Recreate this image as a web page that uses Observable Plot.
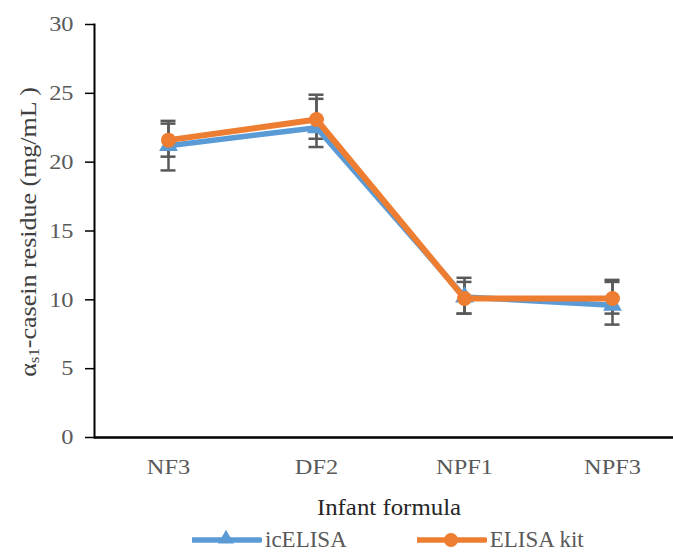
<!DOCTYPE html>
<html>
<head>
<meta charset="utf-8">
<script src="https://cdn.jsdelivr.net/npm/d3@7"></script>
<script src="https://cdn.jsdelivr.net/npm/@observablehq/plot@0.6"></script>
<style>
  body { margin: 0; background: #fff; overflow: hidden; font-family: 'Liberation Serif', 'Times New Roman', 'DejaVu Serif', serif; }
  #chart svg { display: block; }
  #chart svg text { font-family: 'Liberation Serif', 'Times New Roman', 'DejaVu Serif', serif; }
  .legend { box-sizing: border-box; display: flex; align-items: flex-start; height: 31px; padding-top: 4px; padding-left: 192px; color: #595959; font-size: 23px; line-height: 27px; }
  .legend .item { display: flex; align-items: center; height: 27px; }
  .legend .item + .item { margin-left: 70px; }
  .legend svg { display: block; margin-right: 3px; }
</style>
</head>
<body>
<div id="chart"></div>
<script>
// Infant formula samples
const categories = ["NF3", "DF2", "NPF1", "NPF3"];

// icELISA: mean and error bar ends (mg/mL)
const icElisaMean = [21.2, 22.5, 10.2, 9.6];
const icElisaLow  = [19.4, 21.1, 9.0, 8.2];
const icElisaHigh = [22.8, 24.9, 11.6, 11.45];

// Commercial ELISA kit: mean and error bar ends (mg/mL)
const kitMean = [21.6, 23.1, 10.1, 10.1];
const kitLow  = [20.4, 21.7, 9.0, 9.0];
const kitHigh = [23.0, 24.6, 11.3, 11.3];

const yTicks = [0, 5, 10, 15, 20, 25, 30];

const seriesNames = ["icELISA", "ELISA kit"];
const colors = {"icELISA": "#5B9BD5", "ELISA kit": "#ED7D31"};

const rows = [];
categories.forEach((c, i) => {
  rows.push({series: "icELISA", formula: c, value: icElisaMean[i], low: icElisaLow[i], high: icElisaHigh[i]});
});
categories.forEach((c, i) => {
  rows.push({series: "ELISA kit", formula: c, value: kitMean[i], low: kitLow[i], high: kitHigh[i]});
});
const ic = rows.filter(d => d.series === "icELISA");
const kit = rows.filter(d => d.series === "ELISA kit");

const serif = "'Liberation Serif', 'Times New Roman', 'DejaVu Serif', serif";
const textGray = "#595959";
const barGray = "#595959";
const capHalf = 7.5;

const chart = Plot.plot({
  width: 673,
  height: 522,
  marginLeft: 94,
  marginRight: 0,
  marginTop: 24,
  marginBottom: 85,
  style: {fontFamily: serif, background: "#fff"},
  x: {type: "point", domain: categories, range: [94, 686], padding: 0.5},
  y: {domain: [0, 30]},
  marks: [
    Plot.axisY({ticks: yTicks, tickSize: 9, tickPadding: 12, stroke: "#000", strokeWidth: 1.5,
      fill: textGray, fontSize: 21, label: null}),
    Plot.axisX({tickSize: 0, tickPadding: 22, fill: textGray, fontSize: 21, label: null}),
    Plot.frame({anchor: "left", stroke: "#000", strokeWidth: 2}),
    Plot.ruleY([0], {stroke: "#000", strokeWidth: 2.5}),
    // error bars with caps
    Plot.ruleX(rows, {x: "formula", y1: "low", y2: "high", stroke: barGray, strokeWidth: 2.5}),
    Plot.ruleY(rows, {x1: "formula", x2: "formula", y: "low", insetLeft: -capHalf, insetRight: -capHalf,
      stroke: barGray, strokeWidth: 2.5}),
    Plot.ruleY(rows, {x1: "formula", x2: "formula", y: "high", insetLeft: -capHalf, insetRight: -capHalf,
      stroke: barGray, strokeWidth: 2.5}),
    // icELISA series
    Plot.line(ic, {x: "formula", y: "value", stroke: colors["icELISA"], strokeWidth: 5.5}),
    Plot.dot(ic, {x: "formula", y: "value", symbol: "triangle", r: 7, fill: colors["icELISA"]}),
    // ELISA kit series
    Plot.line(kit, {x: "formula", y: "value", stroke: colors["ELISA kit"], strokeWidth: 6}),
    Plot.dot(kit, {x: "formula", y: "value", symbol: "circle", r: 7.5, fill: colors["ELISA kit"]})
  ]
});

document.getElementById("chart").appendChild(chart);
const svg = d3.select(chart);

// widen glyphs horizontally (the labels use a broad serif face)
function widen(selection, k) {
  selection.each(function() {
    const len = this.getComputedTextLength();
    this.setAttribute("textLength", len * k);
    this.setAttribute("lengthAdjust", "spacingAndGlyphs");
  });
}
widen(svg.selectAll("text"), 1.16);

// y-axis title with subscript
const yTitle = svg.append("text")
  .attr("transform", "translate(28,232) rotate(-90)")
  .attr("text-anchor", "middle")
  .attr("dominant-baseline", "central")
  .attr("fill", "#404040")
  .attr("font-size", 23)
  .style("font-family", serif);
yTitle.append("tspan").text("α");
yTitle.append("tspan").attr("font-size", 15).attr("dy", 6).text("s1");
yTitle.append("tspan").attr("dy", -6).text("-casein residue (mg/mL )");
widen(yTitle, 1.13);

// x-axis title
const xTitle = svg.append("text")
  .attr("x", 389)
  .attr("y", 507)
  .attr("text-anchor", "middle")
  .attr("dominant-baseline", "central")
  .attr("fill", "#262626")
  .attr("font-size", 23)
  .style("font-family", serif)
  .text("Infant formula");
widen(xTitle, 1.08);

// legend
const legend = d3.select("body").append("div").attr("class", "legend");
seriesNames.forEach(name => {
  const item = legend.append("div").attr("class", "item");
  const s = item.append("svg").attr("width", 70).attr("height", 20);
  s.append("line").attr("x1", 0).attr("x2", 68).attr("y1", 10).attr("y2", 10)
    .attr("stroke", colors[name]).attr("stroke-width", 5.5).attr("stroke-linecap", "round");
  if (name === "icELISA") {
    s.append("path").attr("d", d3.symbol(d3.symbolTriangle, 110)()).attr("transform", "translate(34,9)").attr("fill", colors[name]);
  } else {
    s.append("circle").attr("cx", 34).attr("cy", 10).attr("r", 7).attr("fill", colors[name]);
  }
  item.append("span").text(name);
});
</script>
</body>
</html>
